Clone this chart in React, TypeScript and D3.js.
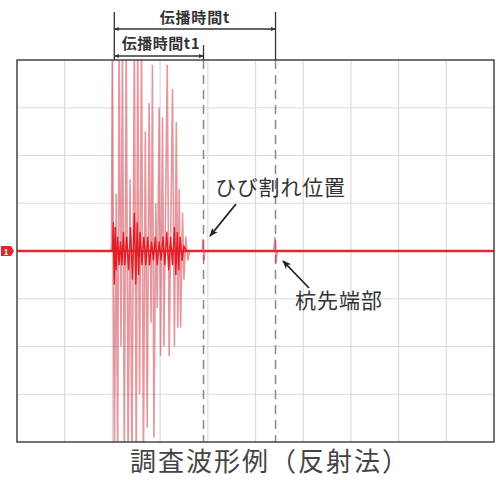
import React from "react";
import * as d3 from "d3";

// time axis in grid divisions (0..10), amplitude in grid divisions (-4..4)
const gridX = [1, 2, 3, 4, 5, 6, 7, 8, 9];
const gridY = [-3, -2, -1, 1, 2, 3];

const t0 = 2.04; // start of signal
const t1 = 3.91; // crack reflection
const tEnd = 5.42; // pile tip reflection

// main burst (alternating peaks)
const waveT = [0, 1.98, 2.0, 2.04, 2.08, 2.11, 2.14, 2.18, 2.21, 2.25, 2.29, 2.33, 2.37, 2.41, 2.46, 2.5, 2.53, 2.57, 2.61, 2.65, 2.69, 2.73, 2.77, 2.81, 2.84, 2.87, 2.91, 2.94, 2.98, 3.01, 3.05, 3.08, 3.15, 3.19, 3.26, 3.3, 3.34, 3.37, 3.4, 3.43, 3.47, 3.5, 3.54, 3.58, 3.62, 3.88, 3.9, 3.92, 3.94, 5.38, 5.41, 5.43, 5.46, 10];
const waveV = [0, 0, 4.5, -4.5, 1.2, -4.5, 4.5, -2.0, 4.5, -4.5, 4.5, -4.5, 1.5, -4.5, 4.5, -4.5, 4.5, -3.0, 4.5, -4.5, 2.5, -3.7, 3.1, -1.5, 3.9, -3.9, 1.0, -1.2, 3.0, -2.2, 2.8, -2.0, 3.9, -2.2, 3.4, -2.0, 2.7, -1.6, 1.3, -1.6, 0.8, -0.6, 0.3, -0.2, 0, 0, 0.25, -0.2, 0, 0, 0.3, -0.25, 0, 0];

// bright core oscillation around the baseline
const coreT = [2.0, 2.02, 2.04, 2.06, 2.08, 2.11, 2.14, 2.17, 2.2, 2.23, 2.26, 2.3, 2.34, 2.38, 2.42, 2.46, 2.49, 2.52, 2.55, 2.58, 2.62, 2.66, 2.7, 2.74, 2.78, 2.82, 2.86, 2.9, 2.94, 2.98, 3.02, 3.06, 3.1, 3.14, 3.18, 3.22, 3.26, 3.3, 3.33, 3.36, 3.39, 3.42, 3.46, 3.5, 3.55];
const coreV = [0, 0.6, -0.7, 0.5, -0.4, 0.3, -0.3, 0.2, -0.3, 0.4, -0.3, 0.3, -0.4, 0.5, -0.6, 0.8, -0.7, 0.6, -0.5, 0.4, -0.3, 0.3, -0.3, 0.3, -0.3, 0.2, -0.2, 0.3, -0.3, 0.2, -0.2, 0.3, -0.3, 0.4, -0.4, 0.3, -0.3, 0.5, -0.5, 0.4, -0.4, 0.3, -0.2, 0.1, 0];

const labelT = "伝播時間t";
const labelT1 = "伝播時間t1";
const labelCrack = "ひび割れ位置";
const labelTip = "杭先端部";
const title = "調査波形例（反射法）";

const W = 496;
const H = 480;
const FONT = "'Noto Sans CJK JP', 'Noto Sans', sans-serif";

export default function App() {
  const x = d3.scaleLinear().domain([0, 10]).range([17, 494]);
  const y = d3.scaleLinear().domain([-4, 4]).range([442, 60]);

  const wave = waveT.map((t, i) => [t, waveV[i]] as [number, number]);
  const core = coreT.map((t, i) => [t, coreV[i]] as [number, number]);
  const line = d3
    .line<[number, number]>()
    .x((d) => x(d[0]))
    .y((d) => y(d[1]));

  const xs = x(t0);
  const x1 = x(t1);
  const xe = x(tEnd);
  const dark = "#333";

  return (
    <svg
      width={W}
      height={H}
      style={{ position: "absolute", left: 0, top: 0, background: "#fff" }}
    >
      <defs>
        <clipPath id="plot">
          <rect x={x(0)} y={y(4)} width={x(10) - x(0)} height={y(-4) - y(4)} />
        </clipPath>
        <marker id="ah" viewBox="0 0 10 10" refX="9" refY="5" markerWidth="9" markerHeight="9" orient="auto-start-reverse" markerUnits="userSpaceOnUse">
          <path d="M0,1 L10,5 L0,9 L3,5 Z" fill="#222" />
        </marker>
        <marker id="sh" viewBox="0 0 10 10" refX="9" refY="5" markerWidth="5" markerHeight="5" orient="auto-start-reverse" markerUnits="userSpaceOnUse">
          <path d="M0,1 L10,5 L0,9 Z" fill="#333" />
        </marker>
      </defs>

      {/* grid */}
      {gridX.map((g) => (
        <line key={"gx" + g} x1={x(g)} x2={x(g)} y1={y(4)} y2={y(-4)} stroke="#dcdcdc" strokeWidth={1.2} />
      ))}
      {gridY.map((g) => (
        <line key={"gy" + g} x1={x(0)} x2={x(10)} y1={y(g)} y2={y(g)} stroke="#dcdcdc" strokeWidth={1.2} />
      ))}

      {/* dashed reflection markers */}
      <line x1={x1} x2={x1} y1={y(4)} y2={y(-4)} stroke="#8a8a8a" strokeWidth={1.5} strokeDasharray="9,6" />
      <line x1={xe} x2={xe} y1={y(4)} y2={y(-4)} stroke="#8a8a8a" strokeWidth={1.5} strokeDasharray="9,6" />

      {/* waveform */}
      <g clipPath="url(#plot)">
        <path d={line(wave) || ""} fill="none" stroke="rgba(205,45,60,0.5)" strokeWidth={1.6} />
        <line x1={x(0)} x2={x(10)} y1={y(0)} y2={y(0)} stroke="#e3262e" strokeWidth={2.6} />
        <path d={line(core) || ""} fill="none" stroke="#e51d25" strokeWidth={1.4} />
      </g>

      {/* frame */}
      <rect x={x(0)} y={y(4)} width={x(10) - x(0)} height={y(-4) - y(4)} fill="none" stroke="#444" strokeWidth={1.5} />

      {/* channel marker */}
      <path d={`M1,${y(0) - 5} L11,${y(0) - 5} L14,${y(0)} L11,${y(0) + 5} L1,${y(0) + 5} Z`} fill="#e3262e" />
      <text x={6} y={y(0) + 3.5} fontSize={8} fill="#fff" fontFamily={FONT} textAnchor="middle" fontWeight="bold">1</text>

      {/* propagation time annotations */}
      <line x1={xs} x2={xs} y1={12} y2={y(4)} stroke={dark} strokeWidth={1.3} />
      <line x1={xe} x2={xe} y1={12} y2={y(4)} stroke={dark} strokeWidth={1.3} />
      <line x1={x1} x2={x1} y1={45} y2={y(4)} stroke={dark} strokeWidth={1.3} />
      <line x1={xs} x2={xe} y1={29} y2={29} stroke={dark} strokeWidth={1.3} markerEnd="url(#sh)" markerStart="url(#sh)" />
      <line x1={xs} x2={x1} y1={56} y2={56} stroke={dark} strokeWidth={1.3} markerEnd="url(#sh)" markerStart="url(#sh)" />
      <text x={(xs + xe) / 2} y={23} fontSize={15} fontFamily={FONT} fill="#333" textAnchor="middle" fontWeight="bold" letterSpacing={0.8}>{labelT}</text>
      <text x={(xs + x1) / 2 + 2} y={49} fontSize={15} fontFamily={FONT} fill="#333" textAnchor="middle" fontWeight="bold" letterSpacing={0.5}>{labelT1}</text>

      {/* callouts */}
      <text x={215} y={195} fontSize={21} fontFamily={FONT} fill="#333" letterSpacing={0.8}>{labelCrack}</text>
      <line x1={236} y1={204} x2={210} y2={236} stroke="#222" strokeWidth={1.8} markerEnd="url(#ah)" />
      <text x={295} y={308} fontSize={21} fontFamily={FONT} fill="#333" letterSpacing={1}>{labelTip}</text>
      <line x1={309} y1={288} x2={283} y2={261} stroke="#222" strokeWidth={1.8} markerEnd="url(#ah)" />

      {/* title */}
      <text x={270} y={471} fontSize={26} fontFamily={FONT} fill="#444" textAnchor="middle" letterSpacing={2}>{title}</text>
    </svg>
  );
}
